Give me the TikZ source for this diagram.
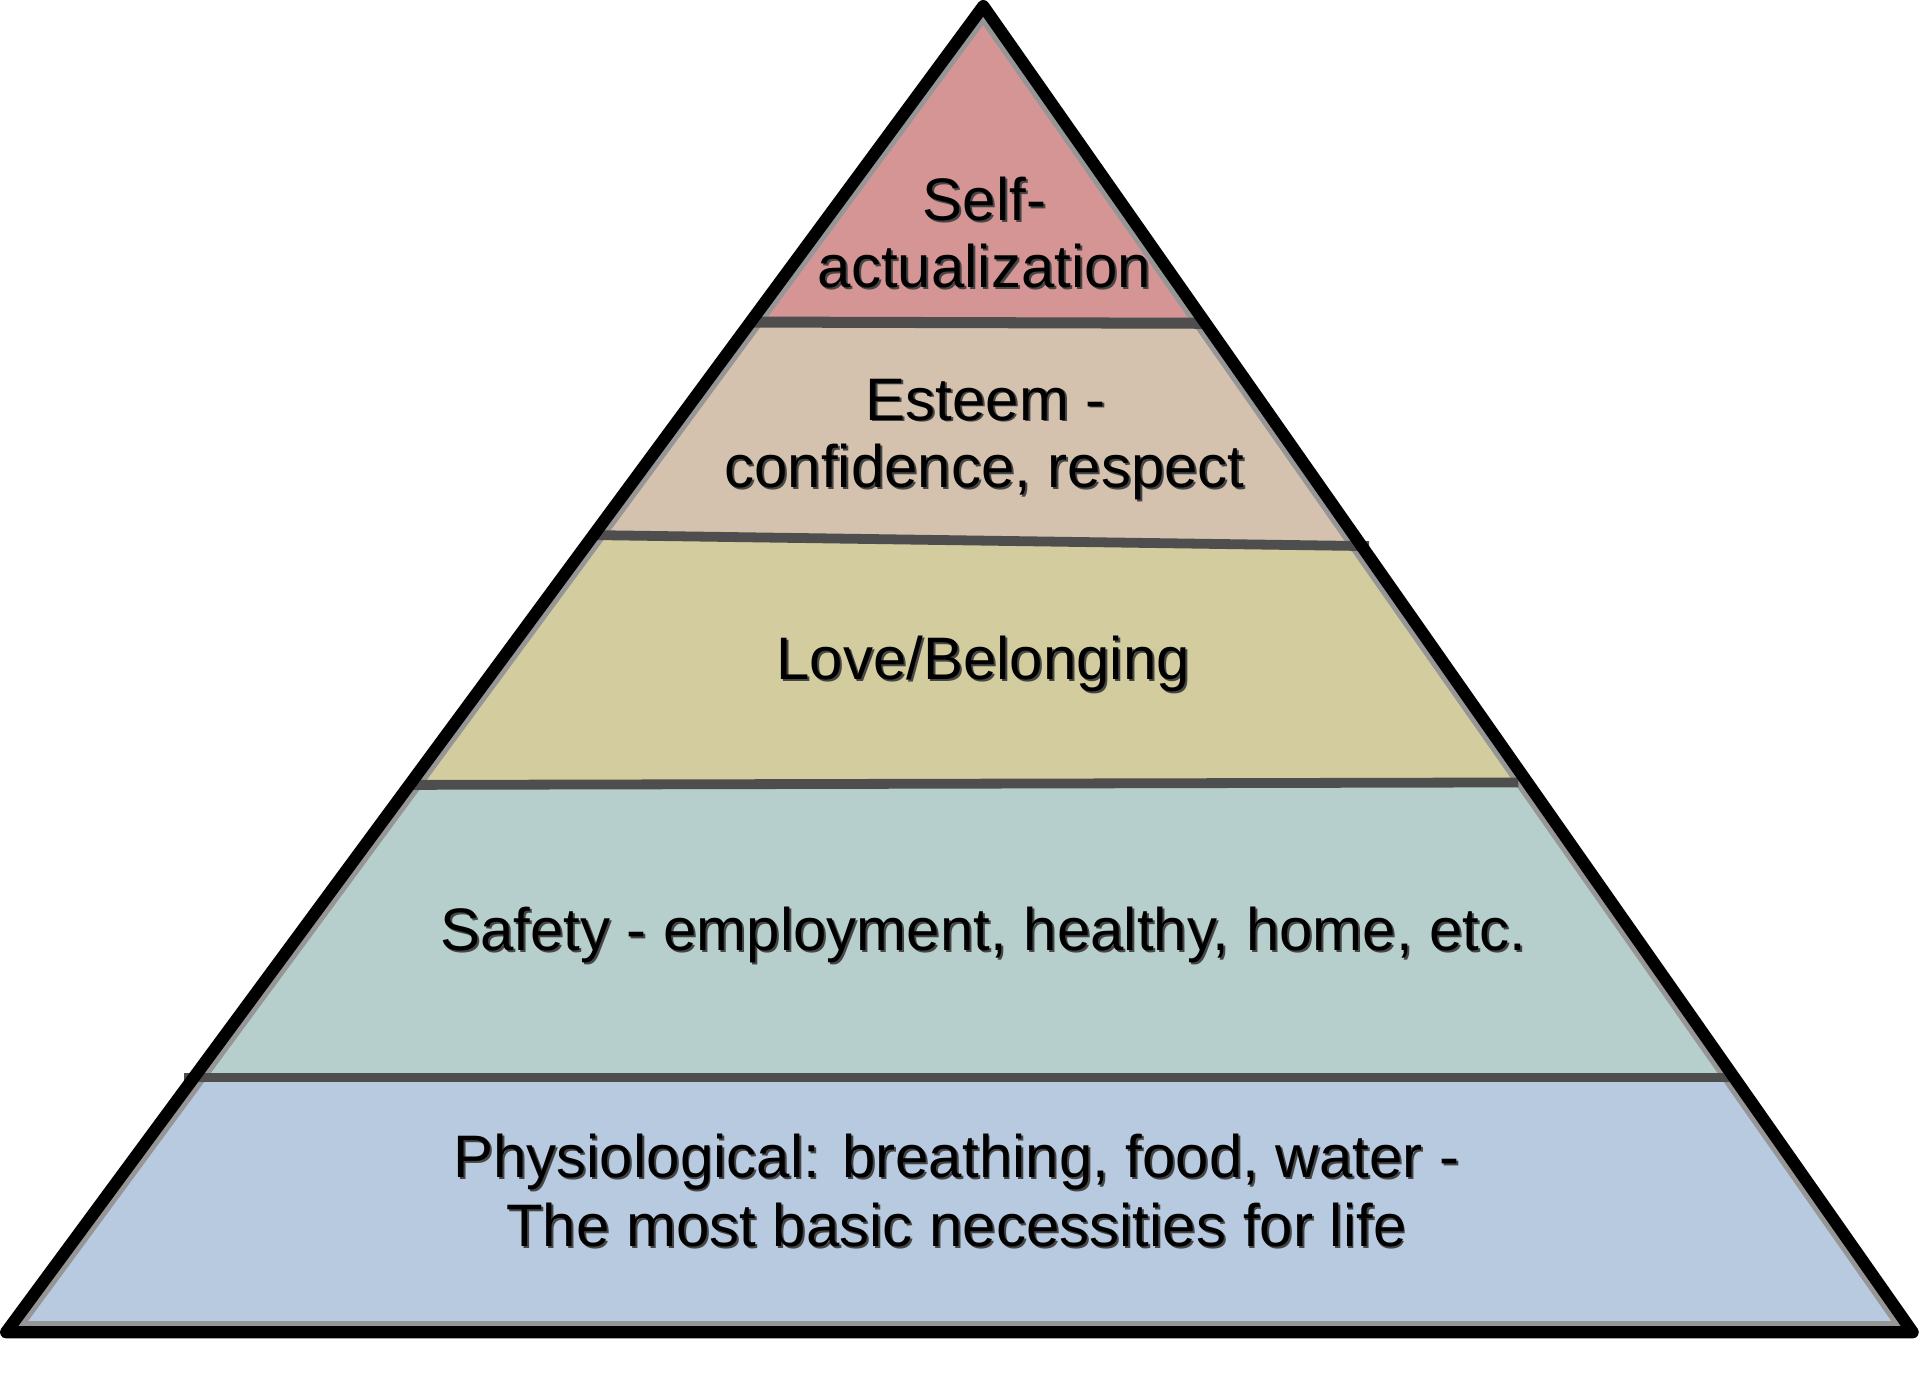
\documentclass[tikz,border=0pt]{standalone}
\usepackage{fontspec}
\setmainfont{Liberation Sans}
\definecolor{selfc}{RGB}{214,149,149}
\definecolor{esteemc}{RGB}{212,194,174}
\definecolor{lovec}{RGB}{211,204,158}
\definecolor{safec}{RGB}{183,207,204}
\definecolor{physc}{RGB}{184,202,224}
\definecolor{sepc}{RGB}{78,78,78}
\definecolor{edgegray}{RGB}{150,150,150}
\definecolor{shadowc}{RGB}{70,70,70}
\tikzset{
  lbl/.style={inner sep=0pt, anchor=base, font=\fontsize{49}{55}\selectfont, text=black},
  lblshadow/.style={lbl, text=shadowc, xshift=1.6pt, yshift=-1.6pt},
  sepline/.style={draw=sepc, line width=8pt},
  outline/.style={draw=black, line width=10pt, line join=round, line cap=round},
}
\newcommand\pyrlabel[3]{%
  \node[lblshadow] at (#2) {#3};
  \node[lbl] (#1) at (#2) {#3};}
\begin{document}
\begin{tikzpicture}[x=1pt,y=-1pt]
\useasboundingbox (0,0) rectangle (1568,1123.8);
\coordinate (apex) at (803,5);
\coordinate (bl) at (5,1088);
\coordinate (br) at (1562,1088);
% bands
\begin{scope}
  \clip (apex) -- (br) -- (bl) -- cycle;
  \fill[physc] (0,880) rectangle (1568,1100);
  \fill[safec] (0,641) -- (1568,639) -- (1568,880) -- (0,880) -- cycle;
  \fill[lovec] (0,437) -- (1568,446) -- (1568,639) -- (0,641) -- cycle;
  \fill[esteemc] (0,263) -- (1568,263) -- (1568,446) -- (0,437) -- cycle;
  \fill[selfc] (0,0) rectangle (1568,263);
  \draw[edgegray, line width=18pt, line join=round] (apex) -- (br) -- (bl) -- cycle;
\end{scope}
% separators
\coordinate (s1l) at (612,263);
\coordinate (s1r) at (984,264);
\coordinate (s2l) at (486,437);
\coordinate (s2r) at (1118,446);
\coordinate (s3l) at (336,641);
\coordinate (s3r) at (1240,639);
\coordinate (s4l) at (150,880);
\coordinate (s4r) at (1414,880);
\draw[sepline, line width=9pt] (s1l) -- (s1r);
\draw[sepline] (s2l) -- (s2r);
\draw[sepline] (s3l) -- (s3r);
\draw[sepline] (s4l) -- (s4r);
% outline
\draw[outline] (apex) -- (br) -- (bl) -- cycle;
% labels
\pyrlabel{self1}{804,180}{Self-}
\pyrlabel{self2}{804,235}{actualization}
\pyrlabel{est1}{805,343}{Esteem -}
\pyrlabel{est2}{804,398}{confidence, respect}
\pyrlabel{love}{803,555}{Love/Belonging}
\pyrlabel{safe}{803,776}{Safety - employment, healthy, home, etc.}
\pyrlabel{phys1}{781,962}{Physiological: breathing, food, water -}
\pyrlabel{phys2}{781,1018}{The most basic necessities for life}
\end{tikzpicture}
\end{document}
